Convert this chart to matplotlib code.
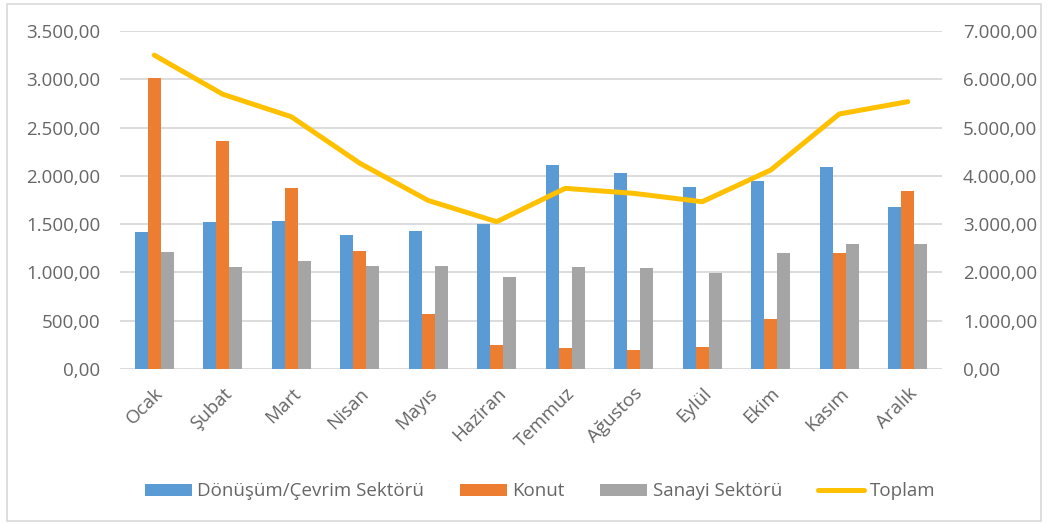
import matplotlib.pyplot as plt
import numpy as np
from matplotlib.patches import Rectangle
from matplotlib.ticker import FuncFormatter, MultipleLocator

months = ["Ocak", "Şubat", "Mart", "Nisan", "Mayıs", "Haziran",
          "Temmuz", "Ağustos", "Eylül", "Ekim", "Kasım", "Aralık"]

donusum = [1420, 1520, 1535, 1390, 1425, 1498, 2110, 2033, 1880, 1947, 2092, 1678]
konut = [3015, 2365, 1878, 1219, 566, 252, 217, 197, 231, 518, 1198, 1840]
sanayi = [1208, 1060, 1122, 1070, 1070, 949, 1056, 1049, 994, 1201, 1290, 1290]
toplam = [6500, 5690, 5225, 4262, 3490, 3051, 3742, 3638, 3465, 4121, 5281, 5536]

BLUE = "#5b9bd5"
ORANGE = "#ed7d31"
GRAY = "#a5a5a5"
GOLD = "#ffc000"
TEXT = "#666666"
GRID = "#d9d9d9"

plt.rcParams["font.family"] = ["Open Sans", "DejaVu Sans"]


def tr_number(v, pos=None):
    s = f"{v:,.2f}"
    return s.replace(",", "X").replace(".", ",").replace("X", ".")


fig = plt.figure(figsize=(10.49, 5.25), dpi=100)
ax1 = fig.add_axes([0.1144, 0.297, 0.7836, 0.644])
ax2 = ax1.twinx()

x = np.arange(len(months))
w = 0.19
ax1.bar(x - w, donusum, w, color=BLUE, label="Dönüşüm/Çevrim Sektörü", zorder=2)
ax1.bar(x, konut, w, color=ORANGE, label="Konut", zorder=2)
ax1.bar(x + w, sanayi, w, color=GRAY, label="Sanayi Sektörü", zorder=2)
ax2.plot(x, toplam, color=GOLD, lw=3.6, solid_capstyle="round",
         solid_joinstyle="round", label="Toplam")

ax1.set_xlim(-0.5, len(months) - 0.5)
ax1.set_ylim(0, 3500)
ax2.set_ylim(0, 7000)
ax1.yaxis.set_major_locator(MultipleLocator(500))
ax2.yaxis.set_major_locator(MultipleLocator(1000))
ax1.yaxis.set_major_formatter(FuncFormatter(tr_number))
ax2.yaxis.set_major_formatter(FuncFormatter(tr_number))

ax1.grid(axis="y", color=GRID, lw=1.3, zorder=0)
ax1.set_axisbelow(True)
for ax in (ax1, ax2):
    for sp in ax.spines.values():
        sp.set_visible(False)
    ax.tick_params(length=0, labelsize=13.5, labelcolor=TEXT)
ax1.tick_params(axis="y", pad=14)
ax2.tick_params(axis="y", pad=15)

ax1.set_xticks(x)
ax1.set_xticklabels(months, rotation=45, ha="right", rotation_mode="anchor")
ax1.tick_params(axis="x", pad=11)

handles1, labels1 = ax1.get_legend_handles_labels()
handles2, labels2 = ax2.get_legend_handles_labels()
fig.legend(handles1 + handles2, labels1 + labels2, loc="center",
           bbox_to_anchor=(0.515, 0.064), ncol=4, frameon=False, fontsize=13.5,
           labelcolor=TEXT, handlelength=2.5, handleheight=0.6,
           handletextpad=0.3, columnspacing=1.9)

fig.patches.append(Rectangle((7 / 1049, 4 / 525), 1034 / 1049, 517 / 525,
                             transform=fig.transFigure, fill=False,
                             edgecolor=GRID, lw=1.2))

fig.savefig("out.png", dpi=100, facecolor="white")
